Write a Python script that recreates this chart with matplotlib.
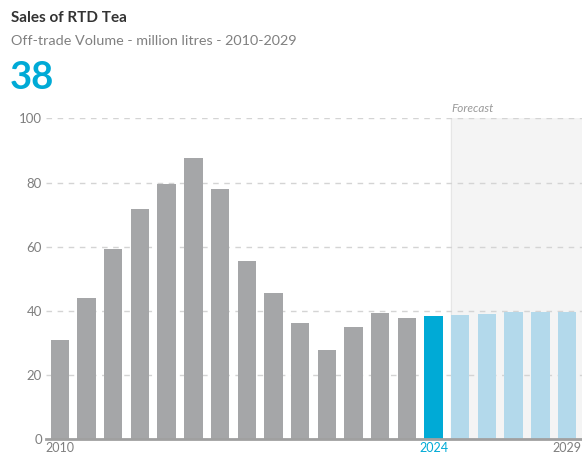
import matplotlib
matplotlib.use("Agg")
import matplotlib.pyplot as plt

years = list(range(2010, 2030))
values = [31.0, 44.0, 59.4, 71.9, 79.7, 87.6, 77.9, 55.5, 45.5, 36.2, 27.7, 34.9, 39.3, 37.9,
          38.3, 38.6, 39.0, 39.5, 39.5, 39.5]
current_year = 2024
yticks = [0, 20, 40, 60, 80, 100]
xtick_years = [2010, 2024, 2029]

GRAY = "#a5a6a8"
BLUE = "#00aad6"
LIGHT = "#b3d9eb"
FONT = "Lato"

plt.rcParams["font.family"] = [FONT, "DejaVu Sans"]

fig = plt.figure(figsize=(5.82, 4.55), dpi=100)
ax = fig.add_axes([0.079, 0.0352, 0.921, 0.7044])

colors = [GRAY if y < current_year else (BLUE if y == current_year else LIGHT) for y in years]
ax.bar(years, values, width=0.69, color=colors, zorder=3)

ax.set_xlim(2009.48, 2029.56)
ax.set_ylim(0, 100)
ax.axvspan(current_year + 0.655, 2029.56, color="#f4f4f4", zorder=0)
ax.axvline(current_year + 0.655, color="#e6e6e6", lw=0.8, zorder=1)

ax.set_yticks(yticks)
ax.yaxis.grid(True, linestyle=(0, (4, 4)), color="#d4d4d4", lw=1.0, zorder=1)
ax.tick_params(axis="y", length=0, pad=3, labelsize=9.5, labelcolor="#7f7f7f")
ax.set_xticks(xtick_years)
ax.set_xticklabels([str(y) for y in xtick_years])
ax.tick_params(axis="x", length=0, pad=2.5, labelsize=9)
for lab, y in zip(ax.get_xticklabels(), xtick_years):
    lab.set_color(BLUE if y == current_year else "#7f7f7f")

for s in ["top", "right", "left"]:
    ax.spines[s].set_visible(False)
ax.spines["bottom"].set_color("#a0a0a0")
ax.spines["bottom"].set_linewidth(2)
ax.spines["bottom"].set_zorder(4)

ax.text(current_year + 0.655, 101.5, "Forecast", style="italic", color="#9a9a9a",
        fontsize=8.5, ha="left", va="bottom")

fig.text(11 / 582, 1 - 18 / 455, "Sales of RTD Tea", fontsize=11, fontweight="bold",
         color="#333333", va="center", ha="left")
fig.text(11 / 582, 1 - 41 / 455, "Off-trade Volume - million litres - 2010-2029", fontsize=10.4,
         color="#808080", va="center", ha="left")
fig.text(10 / 582, 1 - 78 / 455, "38", fontsize=27.5, fontweight="bold", color=BLUE,
         va="center", ha="left")

fig.savefig("out.png", dpi=100)
